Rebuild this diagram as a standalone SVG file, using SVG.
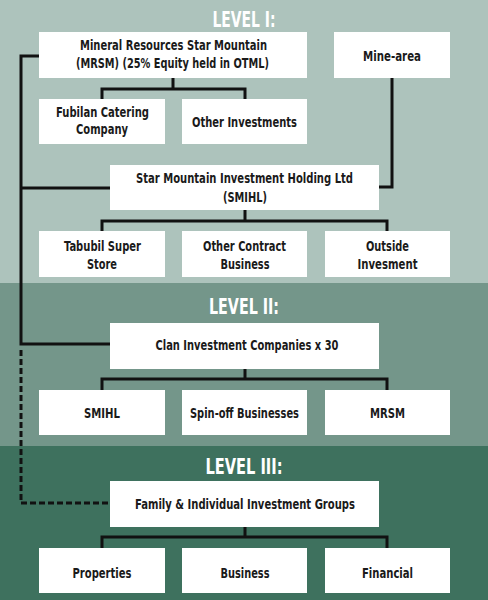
<svg xmlns="http://www.w3.org/2000/svg" width="488" height="600" viewBox="0 0 488 600">
<style>
.box{fill:#ffffff}
.t{font-family:"DejaVu Sans Condensed","Liberation Sans",sans-serif;font-weight:bold;font-size:14px;fill:#1a1a1a;text-anchor:middle}
.h{font-family:"DejaVu Sans Condensed","Liberation Sans",sans-serif;font-weight:bold;font-size:21px;fill:#ffffff;text-anchor:middle}
.ln{fill:none;stroke:#111111;stroke-width:3}
.dash{stroke-dasharray:6 3}
</style>
<rect x="0" y="0" width="488" height="283" fill="#adc3bc"/>
<rect x="0" y="283" width="488" height="163" fill="#74968a"/>
<rect x="0" y="446" width="488" height="154" fill="#3e715e"/>
<text class="h" x="244" y="27" textLength="63" lengthAdjust="spacingAndGlyphs">LEVEL I:</text>
<text class="h" x="244" y="314" textLength="70" lengthAdjust="spacingAndGlyphs">LEVEL II:</text>
<text class="h" x="244" y="474" textLength="77" lengthAdjust="spacingAndGlyphs">LEVEL III:</text>
<g id="connectors">
<path class="ln" d="M39,56H21V344H110"/>
<path class="ln" d="M21,188H110"/>
<path class="ln dash" d="M21,350V503H110"/>
<path class="ln" d="M173,78V89M102,99V89H245V99"/>
<path class="ln" d="M392,78V187H379"/>
<path class="ln" d="M245,210V221M102,231V221H387V231"/>
<path class="ln" d="M245,369V379M102,390V379H387V390"/>
<path class="ln" d="M245,527V537M102,548V537H387V548"/>
</g>
<g id="mrsm"><rect class="box" x="39" y="32" width="268" height="46"/><text class="t" x="173.5" y="49.5" textLength="187" lengthAdjust="spacingAndGlyphs">Mineral Resources Star Mountain</text><text class="t" x="172.5" y="67.5" textLength="193" lengthAdjust="spacingAndGlyphs">(MRSM) (25% Equity held in OTML)</text></g>
<g id="minearea"><rect class="box" x="334" y="32" width="116" height="46"/><text class="t" x="392" y="60.5" textLength="58" lengthAdjust="spacingAndGlyphs">Mine-area</text></g>
<g id="fubilan"><rect class="box" x="39" y="99" width="126" height="45"/><text class="t" x="102.5" y="116.5" textLength="93" lengthAdjust="spacingAndGlyphs">Fubilan Catering</text><text class="t" x="102" y="134" textLength="52" lengthAdjust="spacingAndGlyphs">Company</text></g>
<g id="otherinv"><rect class="box" x="182" y="99" width="125" height="45"/><text class="t" x="244.5" y="126.5" textLength="105" lengthAdjust="spacingAndGlyphs">Other Investments</text></g>
<g id="smihl"><rect class="box" x="110" y="165" width="269" height="45"/><text class="t" x="244.5" y="183" textLength="217" lengthAdjust="spacingAndGlyphs">Star Mountain Investment Holding Ltd</text><text class="t" x="245" y="201.5" textLength="44" lengthAdjust="spacingAndGlyphs">(SMIHL)</text></g>
<g id="tabubil"><rect class="box" x="39" y="231" width="126" height="46"/><text class="t" x="102.5" y="250.5" textLength="77" lengthAdjust="spacingAndGlyphs">Tabubil Super</text><text class="t" x="102" y="269" textLength="30" lengthAdjust="spacingAndGlyphs">Store</text></g>
<g id="othercontract"><rect class="box" x="182" y="231" width="125" height="46"/><text class="t" x="244.5" y="250.5" textLength="83" lengthAdjust="spacingAndGlyphs">Other Contract</text><text class="t" x="245" y="269" textLength="49" lengthAdjust="spacingAndGlyphs">Business</text></g>
<g id="outside"><rect class="box" x="325" y="231" width="125" height="46"/><text class="t" x="387.5" y="250.5" textLength="43" lengthAdjust="spacingAndGlyphs">Outside</text><text class="t" x="387.5" y="269" textLength="60" lengthAdjust="spacingAndGlyphs">Invesment</text></g>
<g id="clan"><rect class="box" x="110" y="323" width="269" height="46"/><text class="t" x="247" y="350" textLength="183" lengthAdjust="spacingAndGlyphs">Clan Investment Companies x 30</text></g>
<g id="smihl2"><rect class="box" x="39" y="390" width="126" height="45"/><text class="t" x="102" y="417.5" textLength="36" lengthAdjust="spacingAndGlyphs">SMIHL</text></g>
<g id="spinoff"><rect class="box" x="182" y="390" width="125" height="45"/><text class="t" x="244.5" y="417.5" textLength="109" lengthAdjust="spacingAndGlyphs">Spin-off Businesses</text></g>
<g id="mrsm2"><rect class="box" x="325" y="390" width="125" height="45"/><text class="t" x="387.5" y="417.5" textLength="35" lengthAdjust="spacingAndGlyphs">MRSM</text></g>
<g id="family"><rect class="box" x="110" y="481" width="269" height="46"/><text class="t" x="245" y="508.5" textLength="220" lengthAdjust="spacingAndGlyphs">Family &amp; Individual Investment Groups</text></g>
<g id="properties"><rect class="box" x="39" y="548" width="126" height="45"/><text class="t" x="102" y="577.5" textLength="59" lengthAdjust="spacingAndGlyphs">Properties</text></g>
<g id="business"><rect class="box" x="182" y="548" width="125" height="45"/><text class="t" x="245" y="577.5" textLength="49" lengthAdjust="spacingAndGlyphs">Business</text></g>
<g id="financial"><rect class="box" x="325" y="548" width="125" height="45"/><text class="t" x="387.5" y="577.5" textLength="51" lengthAdjust="spacingAndGlyphs">Financial</text></g>
</svg>
